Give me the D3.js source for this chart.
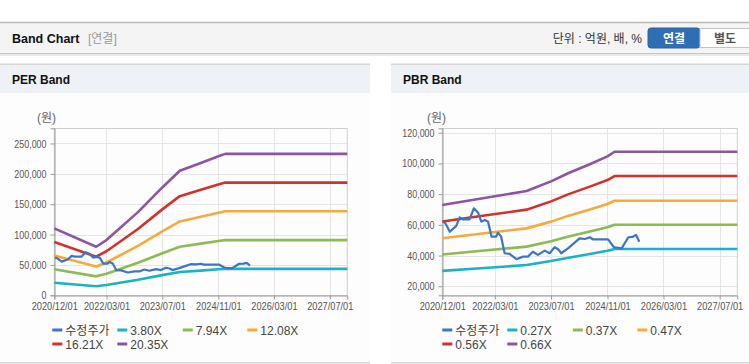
<!DOCTYPE html>
<html><head><meta charset="utf-8">
<script src="https://cdn.jsdelivr.net/npm/d3@7"></script>
<style>
body{margin:0;background:#fff;}
svg{display:block;}
</style></head>
<body>
<svg id="chart" width="749" height="364"></svg>
<script>
// ---------------- DATA ----------------
const xTickLabels = ["2020/12/01","2022/03/01","2023/07/01","2024/11/01","2026/03/01","2027/07/01"];
const xDomain = ["2020-12-01","2027-12-01"];
const perYTicks = [0,50000,100000,150000,200000,250000];
const pbrYTicks = [20000,40000,60000,80000,100000,120000];

// 수정주가 (adjusted price), shared by both charts
const priceDates = ["2020-12-07","2020-12-28","2021-02-04","2021-04-01","2021-05-01","2021-05-28","2021-07-25","2021-09-01","2021-10-07","2021-11-04","2021-12-04","2022-01-01","2022-02-01","2022-03-13","2022-03-28","2022-04-25","2022-05-25","2022-07-07","2022-09-04","2022-11-01","2022-12-13","2023-01-25","2023-03-10","2023-05-07","2023-06-19","2023-08-01","2023-09-01","2023-09-28","2023-11-25","2024-01-22","2024-03-04","2024-04-19","2024-06-01","2024-06-28","2024-11-07","2024-12-22","2025-01-04","2025-03-04","2025-05-01","2025-06-07","2025-07-07","2025-08-04"];
const priceValues = [62100,61000,55500,59300,64900,63600,63600,70800,67900,62100,63200,62100,52300,52300,54900,52300,41500,41100,37600,39300,39300,42500,40400,43200,41500,45400,44100,41500,44700,48400,51200,50800,51900,50600,50600,45800,45400,44700,51900,52200,53400,49000];

// PER band lines
const perBandDates = ["2020-12-01","2021-12-01","2022-03-01","2022-12-01","2023-07-01","2023-12-01","2024-06-01","2024-11-01","2025-01-01","2027-12-01"];
const perBand380  = [20600,14900,17000,25600,33200,38300,40700,42800,43500,43500];
const perBand794  = [43000,31200,35500,53500,69300,80000,85100,89300,90900,90900];
const perBand1208 = [65400,47400,54000,81300,105400,121700,129400,135900,138300,138300];
const perBand1621 = [87800,63600,72500,109100,141500,163300,173700,182400,185600,185600];
const perBand2035 = [110200,79900,91000,137000,177600,205000,218000,229000,232900,232900];
const perNames = ["수정주가","3.80X","7.94X","12.08X","16.21X","20.35X"];

// PBR band lines
const pbrBandDates = ["2020-12-01","2021-12-01","2022-12-01","2023-07-01","2023-12-01","2024-06-01","2024-11-01","2025-01-01","2027-12-01"];
const pbrBand027 = [30000,31900,33800,36400,38600,41000,43100,44300,44300];
const pbrBand037 = [40700,43300,45800,49300,52400,55600,58400,60100,60100];
const pbrBand047 = [51300,54500,57700,62100,66000,70000,73600,75700,75700];
const pbrBand056 = [62200,66100,69900,75300,80000,84900,89200,91800,91800];
const pbrBand066 = [72900,77500,82000,88300,93800,99500,104600,107600,107600];
const pbrNames = ["수정주가","0.27X","0.37X","0.47X","0.56X","0.66X"];

const seriesColors = ["#3b76c6","#1ab3c6","#8dba52","#f4aa3c","#d2322b","#8d559f"];

// ---------------- DRAW ----------------
const svg = d3.select("#chart");
const parse = d3.timeParse("%Y-%m-%d");
const tickParse = d3.timeParse("%Y/%m/%d");
const FONT = "'Liberation Sans',Arial,sans-serif";
const KFONT = "'Liberation Sans','Noto Sans CJK KR',sans-serif";

// top header
svg.append("rect").attr("x",0).attr("y",22).attr("width",749).attr("height",31).attr("fill","#f4f4f4");
svg.append("line").attr("x1",0).attr("x2",749).attr("y1",22.5).attr("y2",22.5).attr("stroke","#b9b9b9").attr("stroke-width",1.5);
svg.append("rect").attr("x",0).attr("y",53).attr("width",749).attr("height",1).attr("fill","#c4c4c4");
svg.append("rect").attr("x",0).attr("y",54).attr("width",749).attr("height",2).attr("fill","#e9e9e9");
svg.append("text").attr("x",12).attr("y",43).text("Band Chart")
  .attr("font-family",KFONT).attr("font-weight","bold").attr("font-size",12.5).attr("fill","#111");
svg.append("text").attr("x",88).attr("y",43).text("[연결]")
  .attr("font-family",KFONT).attr("font-size",12).attr("fill","#999");
svg.append("text").attr("x",642).attr("y",43).attr("text-anchor","end").text("단위 : 억원, 배, %")
  .attr("font-family",KFONT).attr("font-size",12).attr("fill","#333");
svg.append("rect").attr("x",648).attr("y",28).attr("width",52).attr("height",20).attr("rx",3)
  .attr("fill","#2f6eb5").attr("stroke","#2a62a3");
svg.append("text").attr("x",674).attr("y",42.5).attr("text-anchor","middle").text("연결")
  .attr("font-family",KFONT).attr("font-weight","bold").attr("font-size",12).attr("fill","#fff");
svg.append("rect").attr("x",700).attr("y",28.5).attr("width",52).attr("height",19)
  .attr("fill","#fff").attr("stroke","#c3c3c3");
svg.append("text").attr("x",725).attr("y",42.5).attr("text-anchor","middle").text("별도")
  .attr("font-family",KFONT).attr("font-weight","bold").attr("font-size",12).attr("fill","#555");

function drawPanel(p) {
  const g = svg.append("g");
  // panel backgrounds
  g.append("rect").attr("x",p.px).attr("y",93).attr("width",p.pw).attr("height",269).attr("fill","#fdfdfd");
  g.append("rect").attr("x",p.px).attr("y",64).attr("width",p.pw).attr("height",29).attr("fill","#eef1f6");
  g.append("rect").attr("x",p.px).attr("y",63.5).attr("width",p.pw).attr("height",1.5).attr("fill","#d6d6d6");
  g.append("rect").attr("x",p.px).attr("y",362).attr("width",p.pw).attr("height",1.5).attr("fill","#d6d6d6");
  g.append("text").attr("x",p.px+12).attr("y",84).text(p.title)
    .attr("font-family",KFONT).attr("font-weight","bold").attr("font-size",12).attr("fill","#111");

  const x = d3.scaleTime().domain(xDomain.map(parse)).range([p.x0,p.x1]);
  const y = d3.scaleLinear().domain(p.yDomain).range([295.3,128.3]);
  const tickDates = xTickLabels.map(tickParse);

  // grid
  g.append("g").selectAll("line").data(p.yTicks).join("line")
    .attr("x1",p.x0).attr("x2",p.x1).attr("y1",d=>Math.round(y(d))+0.5).attr("y2",d=>Math.round(y(d))+0.5)
    .attr("stroke","#e5e5e5");
  g.append("g").selectAll("line").data(tickDates).join("line")
    .attr("x1",d=>Math.round(x(d))+0.5).attr("x2",d=>Math.round(x(d))+0.5).attr("y1",128.3).attr("y2",295.3)
    .attr("stroke","#e5e5e5");
  g.append("rect").attr("x",p.x0).attr("y",128.5).attr("width",p.x1-p.x0).attr("height",167)
    .attr("fill","none").attr("stroke","#cfcfcf");

  // axes
  const ya = g.append("g").attr("transform",`translate(${Math.round(p.x0)+0.5},0)`)
    .call(d3.axisLeft(y).tickValues(p.yTicks).tickSize(4).tickPadding(4).tickFormat(d3.format(",")));
  const xa = g.append("g").attr("transform",`translate(0,${295.5})`)
    .call(d3.axisBottom(x).tickValues(tickDates).tickSize(4).tickPadding(3).tickFormat(d3.timeFormat("%Y/%m/%d")));
  [ya,xa].forEach(a=>{
    a.select(".domain").attr("stroke","#9a9a9a");
    a.selectAll(".tick line").attr("stroke","#9a9a9a");
    a.selectAll("text").attr("font-family",FONT).attr("font-size",11).attr("fill","#555");
  });
  // narrow the tick labels horizontally (the reference uses a narrow face)
  const ky = 0.81, kx = 0.84;
  ya.selectAll("text").attr("x",-8/ky).attr("transform",`scale(${ky},1)`);
  xa.selectAll("text").attr("transform",`scale(${kx},1)`);

  g.append("text").attr("x",p.unitX).attr("y",122).text("(원)")
    .attr("font-family",KFONT).attr("font-size",12).attr("fill","#666");

  // band lines
  const line = d3.line().x(d=>x(d[0])).y(d=>y(d[1]));
  p.bands.forEach((vals,i)=>{
    const pts = p.bandDates.map((d,j)=>[parse(d),vals[j]]);
    g.append("path").attr("d",line(pts)).attr("fill","none")
      .attr("stroke",seriesColors[i+1]).attr("stroke-width",2.6).attr("stroke-linejoin","round");
  });
  const ppts = priceDates.map((d,j)=>[parse(d),priceValues[j]]);
  g.append("path").attr("d",line(ppts)).attr("fill","none")
    .attr("stroke",seriesColors[0]).attr("stroke-width",2.2).attr("stroke-linejoin","round");

  // legend
  const cols = [0,65,130.5,195];
  p.names.forEach((n,i)=>{
    const lx = p.legX + cols[i%4];
    const ly = i<4 ? 330 : 344;
    g.append("rect").attr("x",lx).attr("y",ly-1.5).attr("width",10).attr("height",3).attr("fill",seriesColors[i]);
    g.append("text").attr("x",lx+13).attr("y",ly+4.5).text(n)
      .attr("font-family",KFONT).attr("font-size",12).attr("fill","#444");
  });
}

drawPanel({px:0,pw:370,title:"PER Band",x0:54.3,x1:347.3,yDomain:[0,275000],yTicks:perYTicks,
  unitX:37,bandDates:perBandDates,bands:[perBand380,perBand794,perBand1208,perBand1621,perBand2035],
  names:perNames,legX:52.3});
drawPanel({px:391,pw:358,title:"PBR Band",x0:442.3,x1:737.3,yDomain:[14100,122900],yTicks:pbrYTicks,
  unitX:427,bandDates:pbrBandDates,bands:[pbrBand027,pbrBand037,pbrBand047,pbrBand056,pbrBand066],
  names:pbrNames,legX:442.3});
</script>
</body></html>
